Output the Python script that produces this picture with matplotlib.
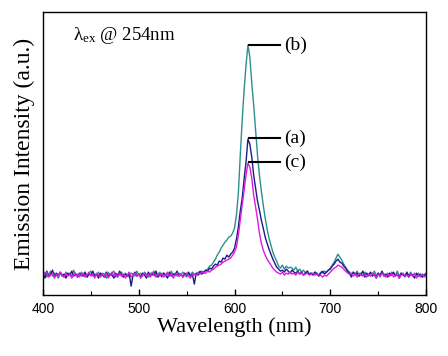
import numpy as np
import matplotlib
matplotlib.use("Agg")
import matplotlib.pyplot as plt

# Wavelength grid (nm), 2 nm steps from 400 to 800
wavelength = np.arange(400, 801, 2)

# (a) navy
intensity_a = [
    22, 17, 24, 19, 21, 25, 18, 22, 20, 23,
    19, 21, 17, 22, 20, 24, 19, 21, 18, 22,
    20, 19, 23, 18, 21, 20, 24, 19, 21, 17,
    22, 20, 18, 23, 19, 21, 20, 17, 22, 19,
    24, 20, 18, 21, 19, 22, 9, 20, 23, 19,
    21, 18, 22, 20, 17, 23, 19, 21, 20, 24,
    18, 21, 19, 22, 20, 17, 23, 19, 21, 20,
    24, 19, 21, 18, 22, 20, 23, 19, 21, 11,
    22, 20, 24, 21, 23, 25, 24, 27, 26, 29,
    31, 30, 34, 33, 37, 36, 40, 38, 41, 43,
    47, 56, 68, 84, 97, 116, 133, 156, 151, 138,
    120, 107, 94, 85, 75, 67, 58, 52, 46, 41,
    36, 32, 28, 26, 24, 25, 23, 26, 24, 22,
    25, 23, 22, 24, 21, 23, 20, 22, 24, 21,
    22, 20, 23, 21, 19, 22, 24, 21, 23, 25,
    26, 29, 31, 34, 36, 33, 32, 29, 27, 24,
    22, 18, 23, 20, 22, 19, 21, 24, 18, 22,
    20, 23, 19, 21, 17, 22, 20, 24, 19, 21,
    18, 22, 20, 23, 19, 21, 17, 22, 20, 19,
    23, 18, 21, 20, 17, 22, 19, 21, 18, 20,
    21,
]

# (b) teal
intensity_b = [
    20, 23, 18, 21, 24, 19, 22, 20, 17, 22,
    21, 18, 23, 20, 22, 19, 25, 20, 21, 18,
    23, 20, 21, 18, 22, 24, 19, 21, 20, 23,
    19, 22, 21, 17, 23, 20, 22, 24, 18, 21,
    20, 23, 19, 22, 20, 18, 22, 21, 19, 24,
    20, 22, 19, 23, 21, 18, 22, 20, 24, 19,
    21, 23, 18, 22, 20, 21, 19, 24, 20, 22,
    19, 22, 20, 23, 21, 18, 22, 20, 23, 21,
    21, 23, 22, 24, 23, 25, 26, 29, 30, 33,
    36, 40, 43, 47, 50, 53, 55, 58, 59, 62,
    67, 80, 102, 140, 175, 205, 230, 250, 238, 212,
    190, 165, 140, 120, 104, 90, 77, 66, 57, 50,
    43, 38, 34, 29, 27, 30, 26, 29, 27, 28,
    27, 25, 28, 24, 26, 23, 25, 22, 24, 21,
    22, 21, 23, 22, 20, 23, 22, 24, 23, 25,
    27, 30, 33, 37, 41, 38, 35, 31, 28, 25,
    23, 20, 23, 21, 24, 19, 22, 20, 23, 21,
    19, 22, 21, 24, 20, 22, 18, 23, 21, 20,
    22, 19, 23, 21, 20, 24, 19, 22, 21, 18,
    22, 20, 23, 19, 21, 20, 22, 18, 21, 20,
    22,
]

# (c) magenta
intensity_c = [
    19, 21, 23, 18, 20, 22, 17, 21, 19, 23,
    20, 18, 22, 19, 21, 17, 20, 22, 18, 21,
    19, 22, 18, 20, 23, 19, 21, 17, 22, 20,
    18, 21, 19, 22, 17, 20, 23, 19, 21, 18,
    22, 19, 21, 17, 20, 23, 18, 20, 22, 19,
    21, 17, 20, 22, 19, 21, 18, 23, 20, 18,
    21, 19, 22, 18, 20, 23, 19, 21, 17, 20,
    22, 19, 21, 18, 20, 22, 19, 17, 21, 20,
    20, 22, 21, 23, 22, 22, 24, 23, 25, 26,
    28, 29, 30, 31, 33, 34, 35, 36, 37, 40,
    43, 48, 60, 75, 90, 105, 120, 132, 128, 117,
    100, 88, 76, 62, 52, 45, 40, 36, 33, 30,
    27, 25, 23, 22, 21, 23, 20, 22, 21, 23,
    21, 22, 20, 23, 21, 22, 20, 21, 22, 20,
    21, 22, 20, 21, 19, 20, 18, 20, 19, 21,
    23, 25, 27, 28, 30, 29, 28, 26, 24, 22,
    21, 22, 19, 21, 18, 22, 20, 19, 21, 18,
    21, 19, 22, 20, 17, 21, 19, 22, 20, 18,
    21, 19, 22, 18, 20, 21, 17, 20, 22, 19,
    20, 18, 21, 19, 22, 17, 20, 19, 21, 18,
    20,
]

labels = ["(a)", "(b)", "(c)"]
peak_wl = [615, 615, 615]
peak_val = [157, 250, 133]

xticks = [400, 500, 600, 700, 800]

fig = plt.figure(figsize=(4.48, 3.56), dpi=100)
ax = fig.add_axes([0.096, 0.171, 0.855, 0.795])

ax.plot(wavelength, intensity_b, color="#2b8f8f", lw=1.0)
ax.plot(wavelength, intensity_a, color="#1c1c86", lw=1.0)
ax.plot(wavelength, intensity_c, color="#e018e0", lw=1.0)

ax.set_xlim(400, 800)
ax.set_ylim(0, 283)
ax.set_xticks(xticks)
ax.set_xticks(np.arange(450, 800, 100), minor=True)
ax.set_yticks([])
ax.tick_params(axis="x", which="major", direction="in", length=4, width=1,
               labelsize=10, pad=5)
ax.tick_params(axis="x", which="minor", direction="in", length=3, width=0.8)
for lab in ax.get_xticklabels():
    lab.set_fontfamily("Liberation Sans")

serif = "Liberation Serif"
ax.set_xlabel("Wavelength (nm)", fontfamily=serif, fontsize=16, labelpad=1)
ax.set_ylabel("Emission Intensity (a.u.)", fontfamily=serif, fontsize=17, labelpad=6)

ax.text(431, 260, r"$\mathregular{\lambda_{ex}}$ @ 254nm", fontfamily=serif,
        fontsize=13.5, va="center", ha="left")

for lab, wl, val in zip(labels, peak_wl, peak_val):
    ax.plot([wl, 648], [val, val], color="black", lw=1.5)
    ax.text(652, val, lab, fontfamily=serif, fontsize=14, va="center", ha="left")

for s in ax.spines.values():
    s.set_linewidth(1.0)

fig.savefig("out.png", dpi=100)
